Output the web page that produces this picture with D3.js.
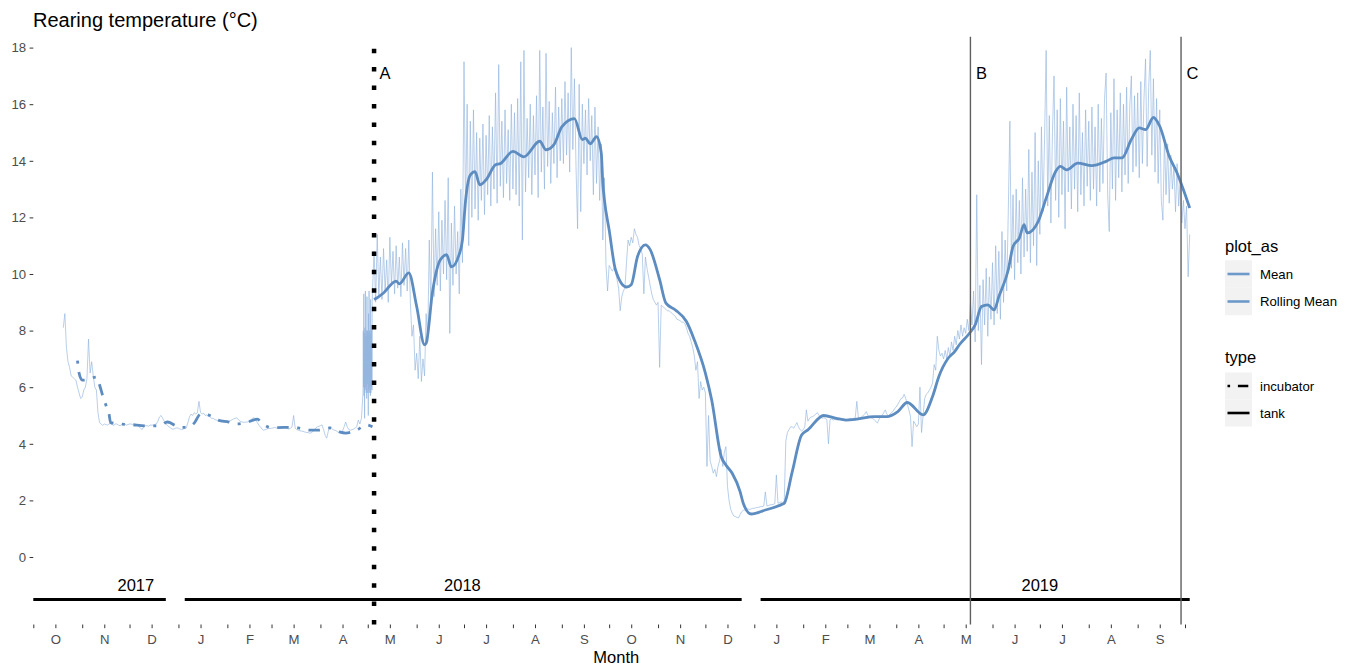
<!DOCTYPE html>
<html>
<head>
<meta charset="utf-8">
<script src="https://cdn.jsdelivr.net/npm/d3@7"></script>
<style>
  body { margin: 0; background: #fff; }
  text { font-family: "Liberation Sans", Arial, sans-serif; }
</style>
</head>
<body>
<svg width="1354" height="668"></svg>
<script>
// daily readings, incubator (from 20 Oct 2017)
const meanIncubatorStart = "2017-10-20"
const meanIncubator = [
    8.1, 8.6, 7.4, 6.9, 6.7, 6.4, 6.35, 6.3, 6.25, 6.0, 5.8, 5.6,
    5.65, 5.9, 6.0, 6.3, 7.7, 6.5, 6.9, 6.4, 6.0, 5.9, 5.1, 4.75, 4.7, 4.65, 4.7, 4.68, 4.66, 4.7, 4.72, 4.68, 4.65, 4.7, 4.7, 4.66, 4.64, 4.68, 4.7, 4.7, 4.66, 4.68,
    4.7, 4.7, 4.68, 4.72, 4.7, 4.66, 4.6, 4.55, 4.5, 4.6, 4.64, 4.64, 4.62, 4.66, 4.66, 4.66, 4.68, 4.7, 4.8, 4.95, 5.0, 4.9, 4.8, 4.7, 4.65, 4.6, 4.56, 4.52, 4.52, 4.55, 4.56,
    4.55, 4.52, 4.5, 4.52, 4.55, 4.56, 4.75, 4.95, 5.05, 5.0, 5.1, 5.05, 5.1, 5.5, 5.1, 5.05, 5.08, 5.0, 5.02, 4.98, 4.95, 4.9, 4.9, 4.86, 4.84, 4.82, 4.8, 4.8, 4.78, 4.78, 4.77,
    4.77, 4.8, 4.82, 4.85, 4.88, 4.9, 4.92, 4.85, 4.8, 4.78, 4.76, 4.76, 4.77, 4.77, 4.8, 4.86, 4.9, 4.92, 4.85, 4.75, 4.65, 4.6, 4.52, 4.48, 4.5, 4.52, 4.55, 4.54,
    4.55, 4.56, 4.58, 4.56, 4.55, 4.58, 4.6, 4.6, 4.6, 4.56, 4.54, 4.52, 4.55, 4.6, 5.0, 4.55, 4.5, 4.48, 4.46, 4.45, 4.44, 4.42, 4.4, 4.4, 4.38, 4.38, 4.42, 4.48, 4.55, 4.6, 4.62,
    4.64, 4.67, 4.5, 4.3, 4.2, 4.45, 4.6, 4.55, 4.5, 4.48, 4.46, 4.42, 4.4, 4.38, 4.45, 4.6, 4.77, 4.6, 4.5, 4.48, 4.5, 4.52, 4.56, 4.6, 4.84, 4.7, 4.9
]

// 4-hourly readings during the move to the tank
const meanBurstStart = "2018-04-28"
const meanBurst = [
    5.8, 8.0, 6.0, 9.3, 5.7, 7.9, 4.9, 8.1, 5.9, 9.4, 6.0, 7.8,
    5.8, 8.0, 5.6, 9.2, 6.1, 8.0, 5.8, 7.9, 5.0, 8.6, 5.9, 9.4,
    5.8, 8.0, 6.0, 7.9, 5.7, 9.1, 5.8, 8.0, 6.0, 8.2, 5.9, 9.0
]

// daily readings, tank (from 4 May 2018)
const meanTankStart = "2018-05-04"
const meanTank = [
    9.4, 10.8, 9.0, 11.4, 9.2, 10.6, 9.1, 10.9, 9.4, 10.5, 9.0, 11.3, 9.6, 10.8, 9.3, 11.0, 9.5, 10.6, 9.2, 11.1, 9.6, 10.9, 9.4, 11.2, 9.0, 7.8, 8.2, 6.6,
    7.2, 6.3, 7.8, 6.2, 7.0, 6.4, 8.6, 7.6, 11.2, 8.8, 13.6, 9.2, 11.6, 9.6, 12.2, 9.4, 11.9, 10.0, 12.6, 9.8, 13.4, 7.9, 11.8, 9.6, 12.4, 10.0, 11.5, 9.3, 13.0, 10.4,
    17.5, 12.2, 16.0, 11.0, 15.4, 12.0, 15.8, 12.3, 15.0, 11.9, 14.8, 12.6, 15.3, 12.1, 14.9, 12.8, 15.6, 12.4, 15.2, 13.0, 16.4, 12.5, 17.4, 13.1, 15.4, 12.7, 15.8, 13.2, 15.1, 12.6, 16.0,
    13.0, 15.7, 12.8, 16.2, 12.4, 17.5, 11.2, 17.9, 12.9, 15.5, 13.4, 16.0, 12.8, 15.6, 13.5, 16.3, 12.7, 17.9, 13.6, 15.9, 13.0, 17.8, 13.8, 16.1, 13.2, 15.7, 13.9, 16.6, 13.4, 15.9, 14.0,
    16.2, 13.9, 16.8, 14.2, 16.4, 13.6, 18.0, 14.4, 16.9, 13.8, 11.6, 16.7, 12.2, 16.0, 13.9, 15.8, 13.5, 16.2, 14.0, 15.6, 12.8, 15.9, 13.2, 15.2, 12.6, 14.6, 11.2, 13.4, 10.3, 9.4,
    10.3, 10.2, 10.1, 10.2, 10.1, 9.8, 9.5, 8.7, 9.2, 9.4, 9.5, 10.4, 11.2, 11.0, 11.3, 11.1, 11.6, 11.4, 11.3, 11.0, 10.9, 10.7, 9.3, 10.6, 10.2, 9.9, 9.6, 9.3, 9.1, 9.0, 8.9,
    9.0, 6.7, 8.9, 8.85, 8.8, 8.75, 8.7, 8.7, 8.65, 8.6, 8.55, 8.5, 8.4, 8.38, 8.35, 8.3, 8.3, 8.25, 8.1, 7.9, 7.8, 7.6, 7.4, 7.1, 6.6, 6.9, 5.6, 6.2, 5.9, 6.0,
    5.8, 3.2, 5.0, 3.4, 3.2, 2.96, 3.1, 2.84, 3.2, 3.4, 3.8, 3.2, 3.7, 3.9, 2.5, 2.0, 1.7, 1.55, 1.45, 1.43, 1.4, 1.38, 1.5, 1.6, 1.65, 1.66, 1.68, 1.7, 1.68, 1.7, 1.72,
    1.72, 1.74, 1.75, 1.76, 1.78, 1.78, 1.8, 2.3, 1.8, 1.82, 1.84, 1.85, 1.86, 1.88, 2.9, 1.9, 1.92, 1.95, 1.9, 2.0, 4.1, 4.4, 4.5, 4.6, 4.6, 4.55, 4.65, 4.75, 4.6, 4.5, 4.45,
    4.5, 4.6, 5.2, 4.8, 4.9, 4.95, 4.96, 5.0, 5.05, 5.1, 5.0, 4.95, 4.9, 4.92, 4.9, 4.85, 4.0, 4.85, 4.88, 4.84, 4.86, 4.85, 4.84, 4.86, 4.85, 4.88, 4.87, 4.86,
    4.86, 4.88, 4.9, 4.88, 4.9, 4.92, 5.5, 4.9, 4.92, 4.95, 5.0, 5.05, 5.14, 5.0, 4.95, 4.92, 4.9, 4.85, 4.8, 4.73, 4.85, 4.95, 5.0, 5.1, 5.2, 5.05, 5.0, 5.05, 5.1, 5.15, 5.25,
    5.3, 5.4, 5.5, 5.6, 5.62, 5.75, 5.6, 5.4, 5.2, 4.96, 3.9, 4.8, 4.7, 4.6, 4.7, 6.0, 4.4, 5.0, 5.6, 5.75, 5.8, 5.9, 6.0, 6.15, 6.8, 6.6, 7.8, 7.3, 7.1, 7.2,
    7.0, 7.3, 7.0, 7.4, 7.1, 7.6, 7.3, 7.8, 7.5, 8.0, 7.7, 8.2, 7.8, 8.1, 7.9, 8.4, 8.0, 9.0, 8.2, 9.4, 7.6, 12.8, 8.0, 9.6, 6.8, 9.8, 8.2, 10.2, 7.8, 9.9, 8.4,
    10.4, 8.2, 11.0, 8.6, 10.8, 8.4, 11.5, 9.0, 11.2, 9.4, 12.2, 15.4, 10.2, 12.8, 9.8, 13.0, 10.4, 12.6, 10.0, 13.4, 10.6, 13.0, 10.8, 14.4, 10.4, 13.6, 11.0, 15.0, 10.3, 14.0,
    11.4, 15.2, 12.2, 14.8, 17.9, 12.4, 15.6, 11.8, 15.0, 17.0, 12.6, 15.8, 12.0, 16.2, 12.8, 15.4, 11.6, 16.6, 12.9, 15.2, 12.3, 16.0, 13.0, 15.6, 12.2, 16.4, 12.8, 15.0, 12.4, 15.8, 13.1,
    15.4, 12.6, 15.9, 13.0, 15.2, 12.4, 16.0, 12.9, 15.5, 13.2, 16.2, 17.1, 12.8, 11.5, 15.7, 13.0, 16.9, 12.6, 15.8, 13.4, 16.4, 12.9, 16.0, 13.5, 16.6, 13.2, 15.9, 17.0, 13.6, 16.3, 13.8,
    16.4, 13.4, 16.8, 13.9, 16.2, 17.6, 13.8, 16.6, 17.9, 14.2, 16.9, 13.6, 16.2, 13.2, 15.8, 12.6, 11.9, 14.8, 12.8, 14.6, 12.5, 14.2, 13.0, 13.8, 12.2, 13.9, 12.4, 13.4, 11.8, 12.6,
    11.6, 12.4, 9.9, 11.4
]

const rollingIncubator = [
    ["2017-10-29", 6.94], ["2017-10-30", 6.5], ["2017-11-01", 6.25], ["2017-11-04", 6.26], ["2017-11-10", 6.36],
    ["2017-11-12", 6.08], ["2017-11-14", 5.7], ["2017-11-16", 5.37], ["2017-11-18", 5.05], ["2017-11-19", 4.75],
    ["2017-11-25", 4.7], ["2017-12-01", 4.68], ["2017-12-14", 4.63], ["2017-12-20", 4.63], ["2017-12-25", 4.77],
    ["2018-01-02", 4.58], ["2018-01-06", 4.58], ["2018-01-11", 4.73], ["2018-01-15", 5.05], ["2018-01-21", 5.0],
    ["2018-01-26", 4.84], ["2018-02-02", 4.77], ["2018-02-07", 4.7], ["2018-02-14", 4.77], ["2018-02-20", 4.87],
    ["2018-02-23", 4.73], ["2018-03-01", 4.56], ["2018-03-09", 4.58], ["2018-03-13", 4.58], ["2018-03-18", 4.56],
    ["2018-03-25", 4.48], ["2018-03-31", 4.48], ["2018-04-07", 4.56], ["2018-04-13", 4.42], ["2018-04-17", 4.38],
    ["2018-04-24", 4.48], ["2018-04-30", 4.67], ["2018-05-04", 4.6]
]

const rollingTank = [
    ["2018-05-05", 9.1], ["2018-05-07", 9.16], ["2018-05-11", 9.33], ["2018-05-19", 9.75], ["2018-05-21", 9.65],
    ["2018-05-27", 10.04], ["2018-06-01", 8.85], ["2018-06-06", 7.5], ["2018-06-07", 7.55], ["2018-06-11", 9.35],
    ["2018-06-16", 10.5], ["2018-06-20", 10.68], ["2018-06-23", 10.25], ["2018-06-28", 10.7], ["2018-06-30", 11.2],
    ["2018-07-02", 12.6], ["2018-07-05", 13.5], ["2018-07-08", 13.62], ["2018-07-11", 13.15], ["2018-07-15", 13.33],
    ["2018-07-21", 13.86], ["2018-07-24", 13.9], ["2018-08-01", 14.33], ["2018-08-08", 14.14], ["2018-08-18", 14.69],
    ["2018-08-22", 14.39], ["2018-08-27", 14.57], ["2018-09-01", 15.2], ["2018-09-09", 15.49], ["2018-09-14", 14.75],
    ["2018-09-16", 14.8], ["2018-09-19", 14.6], ["2018-09-23", 14.85], ["2018-09-26", 14.28], ["2018-09-27", 13.2],
    ["2018-09-28", 12.62], ["2018-10-01", 11.56], ["2018-10-05", 10.15], ["2018-10-12", 9.54], ["2018-10-15", 9.62],
    ["2018-10-19", 10.62], ["2018-10-24", 11.03], ["2018-10-27", 10.86], ["2018-11-02", 9.8], ["2018-11-06", 8.97],
    ["2018-11-12", 8.73], ["2018-11-19", 8.32], ["2018-11-24", 7.67], ["2018-12-01", 6.5], ["2018-12-05", 5.55],
    ["2018-12-11", 3.55], ["2018-12-14", 3.25], ["2018-12-18", 2.96], ["2018-12-23", 2.31], ["2018-12-25", 1.9],
    ["2018-12-30", 1.52], ["2019-01-08", 1.66], ["2019-01-19", 1.87], ["2019-01-20", 1.9], ["2019-01-25", 3.0],
    ["2019-01-31", 4.31], ["2019-02-04", 4.49], ["2019-02-14", 5.0], ["2019-02-22", 4.9], ["2019-02-28", 4.84],
    ["2019-03-07", 4.87], ["2019-03-18", 4.96], ["2019-03-26", 4.96], ["2019-04-02", 5.14], ["2019-04-08", 5.46],
    ["2019-04-18", 5.02], ["2019-04-24", 5.67], ["2019-04-28", 6.38], ["2019-05-04", 7.03], ["2019-05-08", 7.26],
    ["2019-05-11", 7.5], ["2019-05-17", 7.88], ["2019-05-21", 8.2], ["2019-05-25", 8.85], ["2019-05-29", 8.91],
    ["2019-06-02", 8.73], ["2019-06-05", 9.2], ["2019-06-11", 10.15], ["2019-06-14", 10.97], ["2019-06-18", 11.27],
    ["2019-06-21", 11.74], ["2019-06-23", 11.45], ["2019-06-30", 11.86], ["2019-07-05", 12.68], ["2019-07-11", 13.62],
    ["2019-07-14", 13.8], ["2019-07-18", 13.68], ["2019-07-25", 13.92], ["2019-08-03", 13.83], ["2019-08-12", 13.98],
    ["2019-08-17", 14.1], ["2019-08-22", 14.1], ["2019-08-28", 14.75], ["2019-09-02", 15.16], ["2019-09-06", 15.1],
    ["2019-09-11", 15.53], ["2019-09-15", 15.22], ["2019-09-21", 14.16], ["2019-09-26", 13.57], ["2019-09-30", 12.98],
    ["2019-10-04", 12.33]
]

const refLabels = ["A", "B", "C"]
const refDates = ["2018-05-05", "2019-05-18", "2019-09-28T12:00"]
const refLabelY = 17.1

const yearLabels = ["2017", "2018", "2019"]
const yearLabelDates = ["2017-12-05", "2018-06-30", "2019-07-01"]
const yearBarStarts = ["2017-10-01", "2018-01-05", "2019-01-05"]
const yearBarEnds = ["2017-12-24", "2018-12-24", "2019-10-04"]
const yearBarY = -1.5
const yearLabelY = -1

const monthLetters = ["O", "N", "D", "J", "F", "M", "A", "M", "J", "J", "A", "S",
                      "O", "N", "D", "J", "F", "M", "A", "M", "J", "J", "A", "S"]
const yTicks = [0, 2, 4, 6, 8, 10, 12, 14, 16, 18]

const plotAsLabels = ["Mean", "Rolling Mean"]
const typeLabels = ["incubator", "tank"]

const parse = d3.isoParse
const xScale = d3.scaleUtc().domain([parse("2017-10-01"), parse("2019-10-05")]).range([33.3, 1191.3])
const yScale = d3.scaleLinear().domain([-2.385, 18.385]).range([624.5, 36.7])

const blueThin = "#8fb3de"
const blueThick = "#5d8cc0"

function series(start, values, stepHours){
    const t0 = parse(start)
    return values.map((v, i) => ({date: d3.utcHour.offset(t0, i * stepHours), value: v}))
}

function addTitle(){
    d3.select("svg").append("text")
        .attr("x", 33).attr("y", 27)
        .style("font-size", "20px")
        .attr("fill", "#000")
        .text("Rearing temperature (°C)")
}

function addAxes(){
    const monthStarts = d3.utcMonth.range(parse("2017-10-01"), parse("2019-10-02"))
    const midMonths = d3.utcMonth.range(parse("2017-10-01"), parse("2019-10-01")).map(d => d3.utcDay.offset(d, 14))

    const xAxis = d3.axisBottom(xScale)
        .tickValues(monthStarts.concat(midMonths))
        .tickSize(3.7)
        .tickPadding(6)
        .tickFormat(d => {
            const i = midMonths.findIndex(m => +m === +d)
            return i >= 0 ? monthLetters[i] : ""
        })

    const yAxis = d3.axisLeft(yScale)
        .tickValues(yTicks)
        .tickSize(3.7)
        .tickPadding(3.5)

    d3.select("svg").append("g")
        .attr("id", "xAxisG")
        .attr("transform", "translate(0, 624.5)")
        .call(xAxis)

    d3.select("svg").append("g")
        .attr("id", "yAxisG")
        .attr("transform", "translate(33.3, 0)")
        .call(yAxis)

    d3.select("svg").selectAll("path.domain").remove()
    d3.select("svg").selectAll(".tick line").attr("stroke", "#333").attr("stroke-width", 1)
    d3.select("svg").selectAll(".tick text")
        .attr("fill", "#4d4d4d")
        .style("font-size", "13.2px")
        .style("font-family", "'Liberation Sans', Arial, sans-serif")

    d3.select("svg").append("text")
        .attr("x", (xScale.range()[0] + xScale.range()[1]) / 2 + 4)
        .attr("y", 663)
        .attr("text-anchor", "middle")
        .style("font-size", "16.5px")
        .text("Month")
}

function addMeanLine(){
    const data = series(meanIncubatorStart, meanIncubator, 24)
        .concat(series(meanBurstStart, meanBurst, 4))
        .concat(series(meanTankStart, meanTank, 24))

    const meanLine = d3.line()
        .x(d => xScale(d.date))
        .y(d => yScale(d.value))

    d3.select("svg").append("path")
        .attr("d", meanLine(data))
        .attr("fill", "none")
        .attr("stroke", blueThin)
        .attr("stroke-opacity", 0.7)
        .attr("stroke-width", 0.9)
}

function addRollingLines(){
    const rollLine = d3.line()
        .x(d => xScale(parse(d[0])))
        .y(d => yScale(d[1]))
        .curve(d3.curveMonotoneX)

    d3.select("svg").append("path")
        .attr("d", rollLine(rollingIncubator))
        .attr("fill", "none")
        .attr("stroke", blueThick)
        .attr("stroke-width", 2.8)
        .attr("stroke-dasharray", "3 8.5 11.5 8.5")

    d3.select("svg").append("path")
        .attr("d", rollLine(rollingTank))
        .attr("fill", "none")
        .attr("stroke", blueThick)
        .attr("stroke-width", 2.8)
        .attr("stroke-linejoin", "round")
}

function addReferenceLines(){
    const top = yScale.range()[1]
    const bottom = yScale.range()[0]

    refDates.forEach((d, i) => {
        const x = xScale(parse(d))
        const line = d3.select("svg").append("line")
            .attr("x1", x).attr("y1", bottom)
            .attr("x2", x).attr("y2", top)
        if (i === 0) {
            line.attr("stroke", "#000")
                .attr("stroke-width", 4.5)
                .attr("stroke-dasharray", "4.5 13.93")
        } else {
            line.attr("stroke", "#5f5f5f")
                .attr("stroke-width", 1.4)
        }
        d3.select("svg").append("text")
            .attr("x", x + 5.5)
            .attr("y", yScale(refLabelY))
            .attr("dy", "0.36em")
            .style("font-size", "16.5px")
            .text(refLabels[i])
    })
}

function addYearBars(){
    d3.select("svg").append("g")
        .selectAll("line")
        .data(yearLabels)
        .enter()
        .append("line")
        .attr("x1", (d, i) => xScale(parse(yearBarStarts[i])))
        .attr("x2", (d, i) => xScale(parse(yearBarEnds[i])))
        .attr("y1", yScale(yearBarY))
        .attr("y2", yScale(yearBarY))
        .attr("stroke", "#000")
        .attr("stroke-width", 3)

    d3.select("svg").append("g")
        .selectAll("text")
        .data(yearLabels)
        .enter()
        .append("text")
        .attr("x", (d, i) => xScale(parse(yearLabelDates[i])))
        .attr("y", yScale(yearLabelY))
        .attr("dy", "0.36em")
        .attr("text-anchor", "middle")
        .style("font-size", "16.5px")
        .text(d => d)
}

function addLegend(){
    const svg = d3.select("svg")
    const x0 = 1225

    svg.append("text").attr("x", x0).attr("y", 252).style("font-size", "16.5px").text("plot_as")
    plotAsLabels.forEach((label, i) => {
        const cy = 274 + i * 27.5
        svg.append("rect").attr("x", x0).attr("y", cy - 13.75).attr("width", 27).attr("height", 27.5).attr("fill", "#f2f2f2")
        svg.append("line").attr("x1", x0 + 2.5).attr("x2", x0 + 24.5).attr("y1", cy).attr("y2", cy)
            .attr("stroke", "#6c98ca").attr("stroke-width", 2.6)
        svg.append("text").attr("x", x0 + 35).attr("y", cy).attr("dy", "0.36em").style("font-size", "13.2px").text(label)
    })

    svg.append("text").attr("x", x0).attr("y", 363).style("font-size", "16.5px").text("type")
    typeLabels.forEach((label, i) => {
        const cy = 386 + i * 27
        svg.append("rect").attr("x", x0).attr("y", cy - 13.5).attr("width", 27).attr("height", 27).attr("fill", "#f2f2f2")
        const key = svg.append("line").attr("x1", x0 + 2.5).attr("x2", x0 + 24.5).attr("y1", cy).attr("y2", cy)
            .attr("stroke", "#000").attr("stroke-width", 2.6)
        if (label === "incubator") key.attr("stroke-dasharray", "2.6 7.8 10.4 7.8")
        svg.append("text").attr("x", x0 + 35).attr("y", cy).attr("dy", "0.36em").style("font-size", "13.2px").text(label)
    })
}

addTitle()
addMeanLine()
addRollingLines()
addYearBars()
addReferenceLines()
addAxes()
addLegend()
</script>
</body>
</html>
